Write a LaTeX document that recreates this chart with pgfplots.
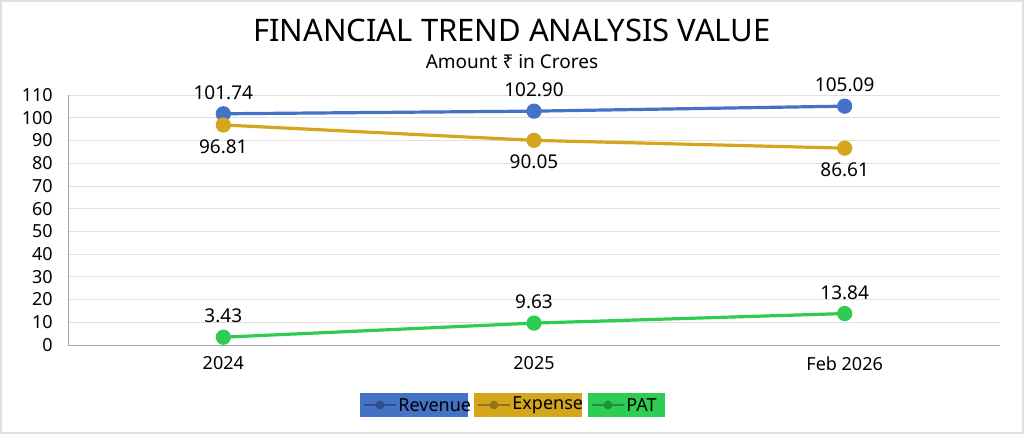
\documentclass[border=0pt]{standalone}
\usepackage{pgfplots}
\pgfplotsset{compat=1.18}
\usepackage{fontspec}
\setmainfont{Noto Sans}
\definecolor{rev}{HTML}{4472C4}
\definecolor{exp}{HTML}{D4A61E}
\definecolor{pat}{HTML}{2ECC52}
\begin{document}
\begin{tikzpicture}
\useasboundingbox (0,0) rectangle (512pt,217pt);
\draw[black!12,line width=0.8pt] (0.4pt,0.4pt) rectangle (511.6pt,216.6pt);
\node at (256pt,202pt) {\fontsize{15.5}{18}\selectfont\bfseries FINANCIAL TREND ANALYSIS VALUE};
\node at (256pt,186pt) {\fontsize{9.5}{11}\selectfont Amount ₹ in Crores};
\begin{axis}[at={(34pt,44.5pt)},anchor=south west,width=466pt,height=125pt,scale only axis,
 xmin=-0.5,xmax=2.5,ymin=0,ymax=110,ytick={0,10,...,110},
 xtick={0,1,2},xticklabels={2024,2025,Feb 2026},
 axis x line=bottom, axis y line=left, axis line style={black!35,-},
 ymajorgrids, grid style={black!12},
 tick style={draw=none},
 ticklabel style={font=\fontsize{9}{10}\selectfont},
 /pgf/number format/assume math mode=true,
 yticklabel style={xshift=-2pt},
 nodes near coords={\pgfmathprintnumber[fixed,fixed zerofill,precision=2]{\pgfplotspointmeta}},
 point meta=y,
 every node near coord/.append style={font=\fontsize{9.5}{11}\selectfont,black},
 clip=false]
\addplot[rev,line width=1.6pt,mark=*,mark size=3pt,nodes near coords align={above},every node near coord/.append style={yshift=3pt}] coordinates {(0,101.74)(1,102.90)(2,105.09)};
\addplot[exp,line width=1.6pt,mark=*,mark size=3pt,nodes near coords align={below},every node near coord/.append style={yshift=-3pt}] coordinates {(0,96.81)(1,90.05)(2,86.61)};
\addplot[pat,line width=1.6pt,mark=*,mark size=3pt,nodes near coords align={above},every node near coord/.append style={yshift=3pt}] coordinates {(0,3.43)(1,9.63)(2,13.84)};
\end{axis}
\foreach \c/\t/\x/\w in {rev/Revenue/207/54,exp/Expense/264/54,pat/PAT/313.25/38.5}{
 \fill[\c] (\x pt-\w pt/2,8.5pt) rectangle (\x pt+\w pt/2,20.5pt);
 \draw[\c!70!black,line width=1.2pt] (\x pt-\w pt/2+2pt,14.5pt) -- ++(16pt,0);
 \fill[\c!70!black] (\x pt-\w pt/2+10pt,14.5pt) circle (2.2pt);
 \node[anchor=west,inner sep=0pt] at (\x pt-\w pt/2+19pt,14.5pt) {\fontsize{9}{10}\selectfont\t};
}
\end{tikzpicture}
\end{document}
